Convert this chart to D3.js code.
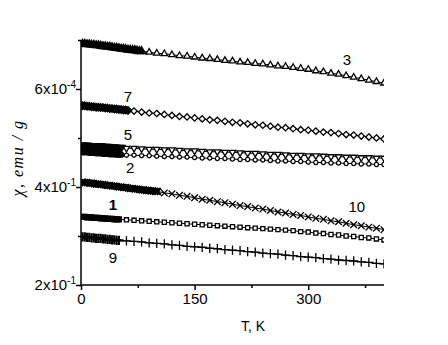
<!DOCTYPE html>
<html>
<head>
<meta charset="utf-8">
<script src="https://d3js.org/d3.v7.min.js"></script>
<style>
    body { margin: 0; background: #fff; }
    text { font-family: "Liberation Sans", Arial, sans-serif; fill: #000; }
</style>
</head>
<body>
<script>
// temperatures (K)
const denseT = [2,5,8,11,14,17,20,23,26,29,32,35,38,41,44,47,50,53,56,59,62,65,68,71,74,77,80,83,86,89,92,95,98,101];
const sparseT = [60,70,80,90,100,110,120,130,140,150,160,170,180,190,200,210,220,230,240,250,260,270,280,290,300,310,320,330,340,350,360,370,380,390,400];

// susceptibility, units of 1e-4 emu/g
const chi3Low = [6.92,6.92,6.91,6.91,6.90,6.90,6.89,6.89,6.88,6.87,6.87,6.86,6.86,6.85,6.84,6.84,6.83,6.82,6.82,6.81,6.80,6.80,6.79,6.79,6.78,6.77,6.77];
const chi3High = [6.75,6.73,6.72,6.70,6.68,6.67,6.65,6.63,6.62,6.60,6.58,6.57,6.55,6.54,6.52,6.51,6.49,6.47,6.46,6.44,6.42,6.40,6.37,6.35,6.32,6.30,6.27,6.24,6.21,6.18,6.15,6.12];
const chi7Low = [5.66,5.66,5.65,5.65,5.64,5.64,5.63,5.63,5.62,5.62,5.61,5.61,5.60,5.60,5.59,5.59,5.58,5.58,5.57,5.57,5.56];
const chi7High = [5.55,5.53,5.51,5.50,5.48,5.46,5.44,5.43,5.41,5.39,5.37,5.36,5.34,5.32,5.31,5.29,5.27,5.26,5.24,5.22,5.21,5.19,5.17,5.16,5.14,5.12,5.11,5.09,5.07,5.06,5.04,5.02,5.00,4.98];
const chi5Low = [4.85,4.85,4.85,4.84,4.84,4.84,4.83,4.83,4.83,4.82,4.82,4.82,4.81,4.81,4.81,4.80,4.80,4.80];
const chi5High = [4.79,4.79,4.78,4.77,4.77,4.76,4.76,4.75,4.74,4.74,4.73,4.72,4.72,4.71,4.71,4.70,4.69,4.69,4.68,4.67,4.67,4.66,4.65,4.65,4.64,4.64,4.63,4.62,4.62,4.61,4.61,4.60,4.60,4.59,4.59];
const chi2Low = [4.71,4.71,4.71,4.70,4.70,4.70,4.69,4.69,4.69,4.68,4.68,4.68,4.67,4.67,4.67,4.66,4.66,4.66];
const chi2High = [4.65,4.65,4.64,4.64,4.63,4.62,4.62,4.61,4.61,4.60,4.59,4.59,4.58,4.58,4.57,4.56,4.56,4.55,4.55,4.54,4.53,4.53,4.52,4.52,4.51,4.50,4.50,4.49,4.49,4.48,4.48,4.47,4.47,4.46,4.46];
const chi10Low = [4.10,4.09,4.09,4.08,4.08,4.07,4.06,4.06,4.05,4.05,4.04,4.03,4.03,4.02,4.02,4.01,4.00,4.00,3.99,3.99,3.98,3.97,3.97,3.96,3.96,3.95,3.94,3.94,3.93,3.93,3.92,3.92,3.91,3.91];
const chi10High = [3.88,3.86,3.83,3.81,3.78,3.75,3.73,3.70,3.68,3.65,3.62,3.60,3.57,3.55,3.52,3.49,3.47,3.44,3.42,3.39,3.36,3.34,3.31,3.29,3.26,3.23,3.21,3.18,3.16,3.13];
const chi1Low = [3.39,3.39,3.38,3.38,3.38,3.37,3.37,3.37,3.36,3.36,3.36,3.35,3.35,3.35,3.34,3.34,3.34];
const chi1High = [3.33,3.32,3.31,3.30,3.29,3.28,3.27,3.26,3.25,3.24,3.23,3.22,3.21,3.20,3.19,3.18,3.17,3.16,3.15,3.14,3.13,3.12,3.11,3.09,3.08,3.06,3.05,3.03,3.02,3.00,2.99,2.97,2.96,2.94,2.92];
const chi9Low = [2.98,2.98,2.97,2.97,2.96,2.96,2.95,2.95,2.95,2.94,2.94,2.93,2.93,2.92,2.92,2.91,2.91];
const chi9High = [2.90,2.89,2.88,2.86,2.85,2.84,2.82,2.81,2.79,2.78,2.77,2.75,2.74,2.72,2.71,2.70,2.68,2.67,2.65,2.64,2.63,2.61,2.60,2.58,2.57,2.56,2.54,2.53,2.51,2.50,2.49,2.47,2.46,2.44,2.43];

const seriesNames = ['3','7','5','2','10','1','9'];
const seriesLow = [chi3Low, chi7Low, chi5Low, chi2Low, chi10Low, chi1Low, chi9Low];
const seriesHigh = [chi3High, chi7High, chi5High, chi2High, chi10High, chi1High, chi9High];
const xTicks = [0,150,300];
const yTicks = [2,4,6];
const yTickExp = ['-1','-1','-4'];
// curve number positions (T, chi)
const labelT = [351, 62, 62, 65, 364, 42, 42];
const labelV = [6.49, 5.73, 4.96, 4.29, 3.49, 3.53, 2.45];

const w = 448, h = 345;
const svg = d3.select('body').append('svg').attr('width', w).attr('height', h);

const x = d3.scaleLinear().domain([0,400]).range([81,384]);
const y = d3.scaleLinear().domain([2,7]).range([285,40]);

svg.append('defs').append('clipPath').attr('id','plot')
    .append('rect').attr('x',81).attr('y',30).attr('width',303).attr('height',260);

const symbols = [d3.symbolTriangle, d3.symbolDiamond2, 'tridown', d3.symbolCircle, d3.symbolX, d3.symbolSquare, d3.symbolPlus];
const sizes = [18, 26, 18, 14, 30, 17, 30];

const plot = svg.append('g').attr('clip-path','url(#plot)');

seriesNames.forEach(function(name, i){
    const pts = [];
    seriesLow[i].forEach((v,j)=>pts.push([denseT[j], v, true]));
    const hi = seriesHigh[i];
    const off = sparseT.length - hi.length;
    hi.forEach((v,j)=>pts.push([sparseT[off+j], v, false]));

    plot.append('path')
        .attr('d', d3.line().x(d=>x(d[0])).y(d=>y(d[1]))(pts))
        .attr('fill','none').attr('stroke','#000').attr('stroke-width',1);

    let sym;
    let rot = '';
    if (symbols[i] === 'tridown') { sym = d3.symbol(d3.symbolTriangle, sizes[i]); rot = ' rotate(180)'; }
    else sym = d3.symbol(symbols[i], sizes[i]);

    plot.selectAll(null).data(pts).enter().append('path')
        .attr('d', sym)
        .attr('transform', d=>'translate(' + x(d[0]) + ',' + y(d[1]) + ')' + rot)
        .attr('fill', d=>d[2] ? '#000' : '#fff')
        .attr('stroke', '#000')
        .attr('stroke-width', d=>d[2] ? 2.2 : 1.3);
});

// axes
const xAxis = d3.axisBottom(x).tickValues([0,75,150,225,300,375]).tickSize(4)
    .tickFormat(d=>xTicks.includes(d) ? d : '');
const gx = svg.append('g').attr('transform','translate(0,285)').call(xAxis);
gx.select('.domain').attr('d','M81,0H384').attr('stroke-width',1.5);
gx.selectAll('.tick line').attr('stroke-width',1.5).attr('y2', d=>xTicks.includes(d) ? 5 : 3);
gx.selectAll('.tick text').attr('font-size',15).attr('y',8)
    .style('font-family','"Liberation Sans", Arial, sans-serif');

const gy = svg.append('g').attr('transform','translate(81,0)')
    .call(d3.axisLeft(y).tickValues([2,3,4,5,6,7]).tickSize(5).tickFormat(''));
gy.select('.domain').attr('d','M0,285V40').attr('stroke-width',1.5);
gy.selectAll('.tick line').attr('stroke-width',1.5).attr('x2', d=>yTicks.includes(d) ? -5 : -3);

yTicks.forEach(function(t,i){
    const lab = svg.append('text').attr('x',76).attr('y',y(t)+5)
        .attr('text-anchor','end').attr('font-size',15);
    lab.append('tspan').text(t + 'x10');
    lab.append('tspan').attr('dy',-6).attr('font-size',10).text(yTickExp[i]);
});

svg.append('text').attr('x',253).attr('y',331).attr('text-anchor','middle')
    .attr('font-size',14).text('T, K');

svg.append('text').attr('transform','translate(23,158) rotate(-90)')
    .attr('text-anchor','middle').attr('font-size',16).attr('font-style','italic')
    .attr('letter-spacing',1.5)
    .style('font-family','"Liberation Serif", serif')
    .text('χ, emu / g');

seriesNames.forEach(function(name,i){
    svg.append('text').attr('x', x(labelT[i])).attr('y', y(labelV[i]))
        .attr('text-anchor','middle').attr('font-size',15)
        .attr('font-weight', name === '1' ? 'bold' : 'normal')
        .text(name);
});
</script>
</body>
</html>
